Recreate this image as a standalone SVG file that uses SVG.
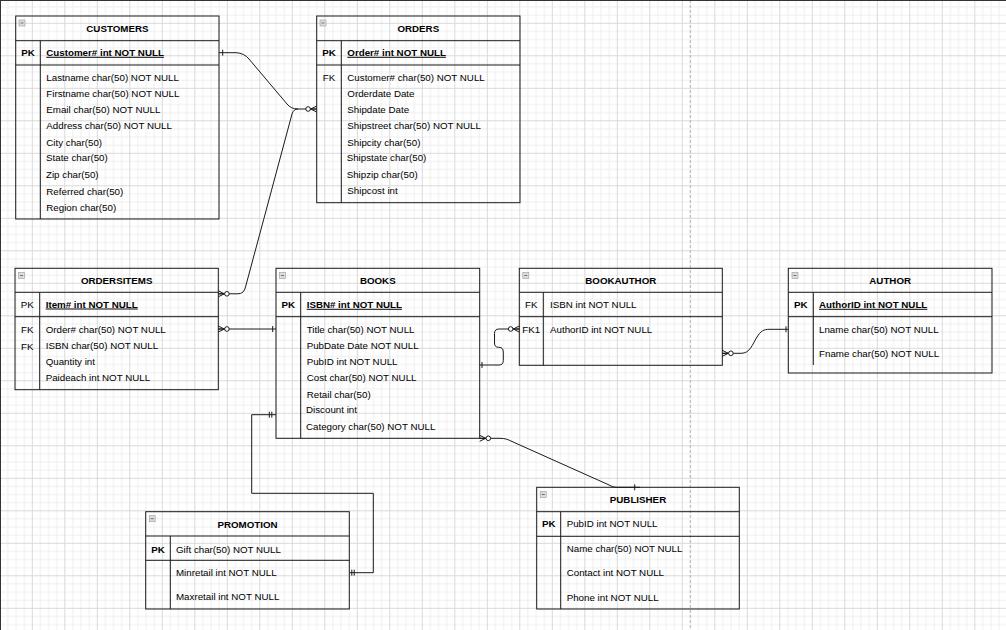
<svg xmlns="http://www.w3.org/2000/svg" xmlns:xlink="http://www.w3.org/1999/xlink" width="1006" height="630" viewBox="0 0 1006 630">
<style>
.box{fill:none;stroke:#1a1a1a;stroke-width:1}
.ln{stroke:#1a1a1a;stroke-width:1}
.t{font-family:"Liberation Sans",Arial,Helvetica,sans-serif;font-size:9.75px;fill:#000}
.title{font-weight:bold;text-anchor:middle}
.pk{font-weight:bold;text-decoration:underline}
.key{text-anchor:middle}
.b{font-weight:bold}
.edge{fill:none;stroke:#1a1a1a;stroke-width:1}
</style>
<defs>
<pattern id="grid" width="32.5" height="32.5" patternUnits="userSpaceOnUse" x="-0.7" y="22.8">
<path d="M8.625 0V32.5M16.75 0V32.5M24.875 0V32.5M0 8.625H32.5M0 16.75H32.5M0 24.875H32.5" stroke="#f0f0f0" stroke-width="1" fill="none"/>
<path d="M0.5 0V32.5M0 0.5H32.5" stroke="#d9d9d9" stroke-width="1" fill="none"/>
</pattern>
<g id="icon"><rect x="0" y="0" width="6" height="6" fill="#dcdcdc" stroke="#9a9a9a" stroke-width="0.6"/><line x1="1.5" y1="3" x2="4.5" y2="3" stroke="#555" stroke-width="0.8"/></g>
<g id="cf"><path d="M0,-3 L6,0 M0,3 L6,0 M0,0 H6" fill="none" stroke="#1a1a1a" stroke-width="1"/><circle cx="8.6" cy="0" r="2.3" fill="#fff" stroke="#1a1a1a" stroke-width="1"/></g>
<line id="bar" x1="0" y1="-3" x2="0" y2="3" stroke="#1a1a1a" stroke-width="1"/>
</defs>
<rect width="1006" height="630" fill="#fff"/>
<rect width="1006" height="630" fill="url(#grid)"/>
<line x1="690.3" y1="0" x2="690.3" y2="630" stroke="#b5b5b5" stroke-width="1" stroke-dasharray="3 2"/>
<line x1="0" y1="0.5" x2="1006" y2="0.5" stroke="#333" stroke-width="1"/>
<line x1="0.5" y1="0" x2="0.5" y2="630" stroke="#333" stroke-width="1"/>

<g id="connectors">
<path class="edge" d="M219 52.7 H236 Q244 53 249 59 L287 104 Q291 109 298 109 H316.7"/>
<use href="#bar" x="222.7" y="52.7"/>
<path class="edge" d="M218.3 293.8 H238 Q244 293.8 245.5 287 L292 114 Q293.5 109 298 109"/>
<use href="#cf" transform="translate(218.3,293.8)"/>
<use href="#cf" transform="translate(316.7,109) scale(-1,1)"/>
<path class="edge" d="M218.3 329 H276"/>
<use href="#cf" transform="translate(218.3,329)"/>
<use href="#bar" x="272.7" y="329"/>
<path class="edge" d="M479.7 365 H499 Q503.3 365 503.3 360.5 V352 Q503.3 347.3 499 347.3 H498.5 Q494.5 347.3 494.5 343 V333.5 Q494.5 329 499 329 H519.3"/>
<use href="#bar" x="482" y="365"/>
<use href="#cf" transform="translate(519.3,329) scale(-1,1)"/>
<path class="edge" d="M722.3 353.3 H741 C750 353.3 752 345 757 337 C761 331 763 329.3 770 329.3 H788.3"/>
<use href="#cf" transform="translate(722.3,353.3)"/>
<use href="#bar" x="786" y="329.3"/>
<path class="edge" d="M479.7 438.3 H500 C505 438.3 508 439.5 512 441.5 L608 484.5 C611 486 613 487.3 617 487.3 H640"/>
<use href="#cf" transform="translate(479.7,438.3)"/>
<use href="#bar" x="634.7" y="487.3"/>
<path class="edge" d="M276 414.7 H251.7 V493.3 H373.3 V572.7 H349.3"/>
<use href="#bar" x="269.3" y="414.7"/>
<use href="#bar" x="271.8" y="414.7"/>
<use href="#bar" x="351.8" y="572.7"/>
<use href="#bar" x="354.2" y="572.7"/>
</g>

<g id="customers">
<rect class="box" x="15.7" y="16" width="203.3" height="203"/>
<line class="ln" x1="15.7" y1="40.7" x2="219" y2="40.7"/>
<line class="ln" x1="15.7" y1="65" x2="219" y2="65"/>
<line class="ln" x1="40.3" y1="40.7" x2="40.3" y2="219"/>
<use href="#icon" x="19" y="20"/>
<text class="t title" x="117.4" y="31.8">CUSTOMERS</text>
<text class="t key b" x="28" y="55.8">PK</text>
<text class="t pk" x="46.3" y="55.8">Customer# int NOT NULL</text>
<text class="t" x="46.3" y="80.8">Lastname char(50) NOT NULL</text>
<text class="t" x="46.3" y="96.8">Firstname char(50) NOT NULL</text>
<text class="t" x="46.3" y="112.8">Email char(50) NOT NULL</text>
<text class="t" x="46.3" y="129.2">Address char(50) NOT NULL</text>
<text class="t" x="46.3" y="145.8">City char(50)</text>
<text class="t" x="46" y="160.5">State char(50)</text>
<text class="t" x="46" y="177.8">Zip char(50)</text>
<text class="t" x="46.3" y="194.5">Referred char(50)</text>
<text class="t" x="46.3" y="210.8">Region char(50)</text>
</g>

<g id="orders">
<rect class="box" x="316.7" y="16" width="203.3" height="186.7"/>
<line class="ln" x1="316.7" y1="40.7" x2="520" y2="40.7"/>
<line class="ln" x1="316.7" y1="65" x2="520" y2="65"/>
<line class="ln" x1="341.3" y1="40.7" x2="341.3" y2="202.7"/>
<use href="#icon" x="320" y="20"/>
<text class="t title" x="418.3" y="31.8">ORDERS</text>
<text class="t key b" x="329" y="55.8">PK</text>
<text class="t pk" x="347.3" y="55.8">Order# int NOT NULL</text>
<text class="t key" x="329" y="80.8">FK</text>
<text class="t" x="347.3" y="80.8">Customer# char(50) NOT NULL</text>
<text class="t" x="347.3" y="97.2">Orderdate Date</text>
<text class="t" x="347.3" y="112.8">Shipdate Date</text>
<text class="t" x="347.3" y="129.2">Shipstreet char(50) NOT NULL</text>
<text class="t" x="347.3" y="145.8">Shipcity char(50)</text>
<text class="t" x="346.7" y="160.5">Shipstate char(50)</text>
<text class="t" x="346.7" y="177.8">Shipzip char(50)</text>
<text class="t" x="347.3" y="194.2">Shipcost int</text>
</g>

<g id="ordersitems">
<rect class="box" x="15" y="268.3" width="203.3" height="121.4"/>
<line class="ln" x1="15" y1="292.3" x2="218.3" y2="292.3"/>
<line class="ln" x1="15" y1="316.7" x2="218.3" y2="316.7"/>
<line class="ln" x1="39.7" y1="292.3" x2="39.7" y2="389.7"/>
<use href="#icon" x="18.5" y="272.5"/>
<text class="t title" x="116.7" y="283.5">ORDERSITEMS</text>
<text class="t key" x="27.3" y="307.5">PK</text>
<text class="t pk" x="45.7" y="307.5">Item# int NOT NULL</text>
<text class="t key" x="27.3" y="332.5">FK</text>
<text class="t" x="45.7" y="332.5">Order# char(50) NOT NULL</text>
<text class="t key" x="27.3" y="349.8">FK</text>
<text class="t" x="45.7" y="349.2">ISBN char(50) NOT NULL</text>
<text class="t" x="45.7" y="365.2">Quantity int</text>
<text class="t" x="45.7" y="380.5">Paideach int NOT NULL</text>
</g>

<g id="books">
<rect class="box" x="276" y="268.3" width="203.7" height="170"/>
<line class="ln" x1="276" y1="292.3" x2="479.7" y2="292.3"/>
<line class="ln" x1="276" y1="316.7" x2="479.7" y2="316.7"/>
<line class="ln" x1="300.7" y1="292.3" x2="300.7" y2="438.3"/>
<use href="#icon" x="279.5" y="272.5"/>
<text class="t title" x="377.8" y="283.5">BOOKS</text>
<text class="t key b" x="288.3" y="307.8">PK</text>
<text class="t pk" x="306.7" y="307.8">ISBN# int NOT NULL</text>
<text class="t" x="306.7" y="332.5">Title char(50) NOT NULL</text>
<text class="t" x="306.7" y="349.2">PubDate Date NOT NULL</text>
<text class="t" x="306.7" y="364.8">PubID int NOT NULL</text>
<text class="t" x="306.7" y="380.8">Cost char(50) NOT NULL</text>
<text class="t" x="306.7" y="397.5">Retail char(50)</text>
<text class="t" x="306" y="412.5">Discount int</text>
<text class="t" x="306" y="429.5">Category char(50) NOT NULL</text>
</g>

<g id="bookauthor">
<rect class="box" x="519.3" y="268.3" width="203" height="97"/>
<line class="ln" x1="519.3" y1="292.3" x2="722.3" y2="292.3"/>
<line class="ln" x1="519.3" y1="316.7" x2="722.3" y2="316.7"/>
<line class="ln" x1="543.3" y1="292.3" x2="543.3" y2="365.3"/>
<use href="#icon" x="522.8" y="272.5"/>
<text class="t title" x="620.8" y="283.5">BOOKAUTHOR</text>
<text class="t key" x="531.3" y="307.8">FK</text>
<text class="t" x="550" y="307.8">ISBN int NOT NULL</text>
<text class="t key" x="531.3" y="332.5">FK1</text>
<text class="t" x="550" y="332.5">AuthorID int NOT NULL</text>
</g>

<g id="author">
<rect class="box" x="788.3" y="268.3" width="203.7" height="104.7"/>
<line class="ln" x1="788.3" y1="292.3" x2="992" y2="292.3"/>
<line class="ln" x1="788.3" y1="316.7" x2="992" y2="316.7"/>
<line class="ln" x1="813.3" y1="292.3" x2="813.3" y2="365"/>
<use href="#icon" x="792" y="272.5"/>
<text class="t title" x="890.2" y="283.5">AUTHOR</text>
<text class="t key b" x="800.8" y="307.8">PK</text>
<text class="t pk" x="819" y="307.8">AuthorID int NOT NULL</text>
<text class="t" x="819" y="332.8">Lname char(50) NOT NULL</text>
<text class="t" x="819" y="356.8">Fname char(50) NOT NULL</text>
</g>

<g id="promotion">
<rect class="box" x="145.7" y="511.7" width="203.6" height="97.3"/>
<line class="ln" x1="145.7" y1="536" x2="349.3" y2="536"/>
<line class="ln" x1="145.7" y1="560.3" x2="349.3" y2="560.3"/>
<line class="ln" x1="170.3" y1="536" x2="170.3" y2="609"/>
<use href="#icon" x="149.2" y="515.7"/>
<text class="t title" x="247.5" y="527.5">PROMOTION</text>
<text class="t key b" x="158" y="552.5">PK</text>
<text class="t" x="176" y="552.5">Gift char(50) NOT NULL</text>
<text class="t" x="176" y="576.2">Minretail int NOT NULL</text>
<text class="t" x="176" y="600.2">Maxretail int NOT NULL</text>
</g>

<g id="publisher">
<rect class="box" x="536.7" y="487.3" width="202.6" height="121.7"/>
<line class="ln" x1="536.7" y1="511.7" x2="739.3" y2="511.7"/>
<line class="ln" x1="536.7" y1="536.3" x2="739.3" y2="536.3"/>
<line class="ln" x1="560.7" y1="511.7" x2="560.7" y2="609"/>
<use href="#icon" x="540.2" y="491.5"/>
<text class="t title" x="638" y="502.8">PUBLISHER</text>
<text class="t key b" x="548.7" y="527.2">PK</text>
<text class="t" x="566.7" y="527.2">PubID int NOT NULL</text>
<text class="t" x="566.7" y="551.8">Name char(50) NOT NULL</text>
<text class="t" x="566.7" y="576.2">Contact int NOT NULL</text>
<text class="t" x="566.7" y="600.5">Phone int NOT NULL</text>
</g>
</svg>
